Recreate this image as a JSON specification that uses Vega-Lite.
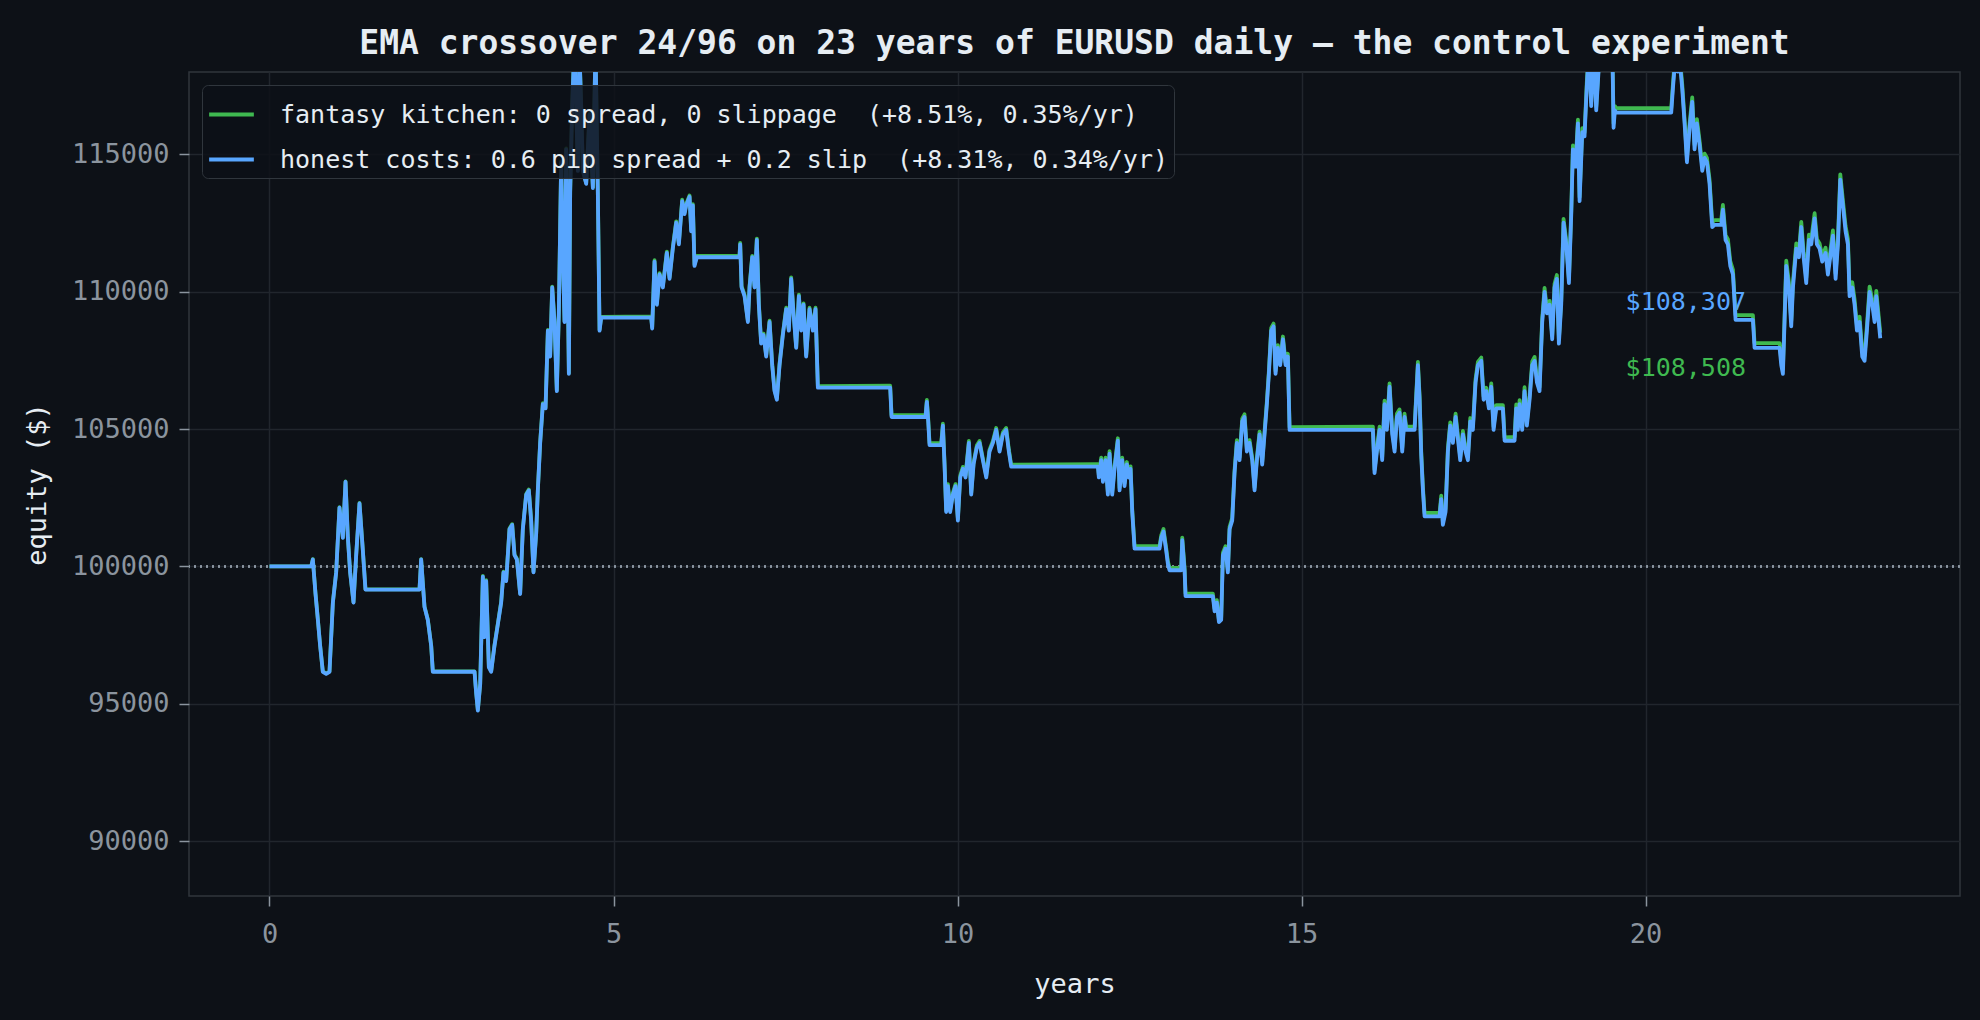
{
  "$schema": "https://vega.github.io/schema/vega-lite/v6.json",
  "width": 1771,
  "height": 824,
  "autosize": {"type": "none"},
  "padding": {"left": 189, "top": 72, "right": 20, "bottom": 124},
  "background": "#0d1117",
  "title": {
    "text": "EMA crossover 24/96 on 23 years of EURUSD daily — the control experiment",
    "fontSize": 33,
    "fontWeight": "bold",
    "color": "#e6edf3",
    "font": "'DejaVu Sans Mono', monospace",
    "anchor": "middle",
    "frame": "group",
    "offset": 11
  },
  "config": {
    "font": "'DejaVu Sans Mono', monospace",
    "view": {"stroke": "#30363d", "strokeWidth": 1.5},
    "axis": {
      "domain": false,
      "grid": true,
      "gridColor": "#21262d",
      "gridWidth": 1.5,
      "tickColor": "#8b949e",
      "tickSize": 10,
      "tickWidth": 1.5,
      "labelColor": "#8b949e",
      "labelFontSize": 27,
      "labelPadding": 10,
      "titleColor": "#e6edf3",
      "titleFontSize": 27,
      "titleFontWeight": "normal"
    },
    "legend": {
      "orient": "top-left",
      "offset": 13,
      "fillColor": "rgba(13,17,23,0.85)",
      "strokeColor": "#30363d",
      "cornerRadius": 6,
      "padding": 5,
      "labelFontSize": 25,
      "labelColor": "#e6edf3",
      "labelLimit": 0,
      "labelOffset": 24,
      "symbolType": "stroke",
      "symbolSize": 2000,
      "symbolStrokeWidth": 3.8,
      "rowPadding": 7
    }
  },
  "data": {
    "values": [
      {"t": 0, "h": 100000, "f": 100000},
      {"t": 0.606, "h": 100000, "f": 100000},
      {"t": 0.63, "h": 100252, "f": 100267},
      {"t": 0.669, "h": 98994, "f": 99009},
      {"t": 0.703, "h": 98051, "f": 98066},
      {"t": 0.736, "h": 97108, "f": 97123},
      {"t": 0.775, "h": 96164, "f": 96179},
      {"t": 0.824, "h": 96090, "f": 96105},
      {"t": 0.872, "h": 96164, "f": 96179},
      {"t": 0.921, "h": 98680, "f": 98695},
      {"t": 0.969, "h": 99780, "f": 99795},
      {"t": 1.017, "h": 102138, "f": 102153},
      {"t": 1.066, "h": 101038, "f": 101053},
      {"t": 1.105, "h": 103081, "f": 103096},
      {"t": 1.139, "h": 101038, "f": 101053},
      {"t": 1.172, "h": 99780, "f": 99795},
      {"t": 1.221, "h": 98680, "f": 98695},
      {"t": 1.26, "h": 100409, "f": 100424},
      {"t": 1.308, "h": 102295, "f": 102310},
      {"t": 1.357, "h": 100566, "f": 100581},
      {"t": 1.395, "h": 99151, "f": 99166},
      {"t": 2.18, "h": 99151, "f": 99166},
      {"t": 2.204, "h": 100252, "f": 100267},
      {"t": 2.253, "h": 98522, "f": 98537},
      {"t": 2.301, "h": 98051, "f": 98066},
      {"t": 2.35, "h": 97108, "f": 97123},
      {"t": 2.374, "h": 96164, "f": 96179},
      {"t": 2.98, "h": 96164, "f": 96179},
      {"t": 3.004, "h": 95378, "f": 95408},
      {"t": 3.028, "h": 94750, "f": 94780},
      {"t": 3.062, "h": 95693, "f": 95723},
      {"t": 3.101, "h": 99623, "f": 99653},
      {"t": 3.125, "h": 97422, "f": 97452},
      {"t": 3.149, "h": 99466, "f": 99496},
      {"t": 3.188, "h": 96322, "f": 96352},
      {"t": 3.222, "h": 96164, "f": 96194},
      {"t": 3.27, "h": 97108, "f": 97138},
      {"t": 3.319, "h": 97894, "f": 97924},
      {"t": 3.367, "h": 98680, "f": 98710},
      {"t": 3.401, "h": 99780, "f": 99810},
      {"t": 3.44, "h": 99466, "f": 99496},
      {"t": 3.488, "h": 101352, "f": 101382},
      {"t": 3.527, "h": 101509, "f": 101539},
      {"t": 3.561, "h": 100409, "f": 100439},
      {"t": 3.595, "h": 100252, "f": 100282},
      {"t": 3.643, "h": 98994, "f": 99024},
      {"t": 3.682, "h": 101352, "f": 101382},
      {"t": 3.731, "h": 102610, "f": 102640},
      {"t": 3.769, "h": 102767, "f": 102797},
      {"t": 3.803, "h": 101666, "f": 101696},
      {"t": 3.837, "h": 99780, "f": 99810},
      {"t": 3.876, "h": 101195, "f": 101225},
      {"t": 3.9, "h": 102767, "f": 102797},
      {"t": 3.934, "h": 104496, "f": 104526},
      {"t": 3.973, "h": 105911, "f": 105941},
      {"t": 4.012, "h": 105754, "f": 105784},
      {"t": 4.046, "h": 108583, "f": 108613},
      {"t": 4.079, "h": 107640, "f": 107670},
      {"t": 4.109, "h": 110155, "f": 110185},
      {"t": 4.142, "h": 108898, "f": 108928},
      {"t": 4.176, "h": 106382, "f": 106412},
      {"t": 4.205, "h": 109212, "f": 109242},
      {"t": 4.239, "h": 114714, "f": 114744},
      {"t": 4.264, "h": 111256, "f": 111286},
      {"t": 4.288, "h": 108898, "f": 108928},
      {"t": 4.312, "h": 115186, "f": 115216},
      {"t": 4.351, "h": 107011, "f": 107041},
      {"t": 4.37, "h": 113614, "f": 113644},
      {"t": 4.399, "h": 116758, "f": 116788},
      {"t": 4.433, "h": 119100, "f": 119130},
      {"t": 4.482, "h": 114400, "f": 114430},
      {"t": 4.506, "h": 118640, "f": 118670},
      {"t": 4.53, "h": 116758, "f": 116788},
      {"t": 4.554, "h": 114400, "f": 114430},
      {"t": 4.603, "h": 113928, "f": 113958},
      {"t": 4.651, "h": 116443, "f": 116473},
      {"t": 4.7, "h": 113771, "f": 113801},
      {"t": 4.738, "h": 118960, "f": 118990},
      {"t": 4.772, "h": 113614, "f": 113644},
      {"t": 4.797, "h": 108583, "f": 108613},
      {"t": 4.821, "h": 109055, "f": 109085},
      {"t": 5.547, "h": 109055, "f": 109105},
      {"t": 5.562, "h": 108662, "f": 108712},
      {"t": 5.596, "h": 111098, "f": 111148},
      {"t": 5.63, "h": 109526, "f": 109576},
      {"t": 5.669, "h": 110627, "f": 110677},
      {"t": 5.717, "h": 110155, "f": 110205},
      {"t": 5.775, "h": 111413, "f": 111463},
      {"t": 5.814, "h": 110470, "f": 110520},
      {"t": 5.862, "h": 111570, "f": 111620},
      {"t": 5.911, "h": 112513, "f": 112563},
      {"t": 5.95, "h": 111727, "f": 111777},
      {"t": 5.998, "h": 113299, "f": 113349},
      {"t": 6.032, "h": 112828, "f": 112878},
      {"t": 6.056, "h": 113142, "f": 113192},
      {"t": 6.105, "h": 113456, "f": 113506},
      {"t": 6.129, "h": 112199, "f": 112249},
      {"t": 6.153, "h": 113142, "f": 113192},
      {"t": 6.177, "h": 110941, "f": 110991},
      {"t": 6.211, "h": 111256, "f": 111306},
      {"t": 6.831, "h": 111256, "f": 111306},
      {"t": 6.841, "h": 111727, "f": 111777},
      {"t": 6.861, "h": 110155, "f": 110205},
      {"t": 6.904, "h": 109841, "f": 109891},
      {"t": 6.953, "h": 108898, "f": 108948},
      {"t": 6.977, "h": 110155, "f": 110205},
      {"t": 7.016, "h": 111256, "f": 111306},
      {"t": 7.05, "h": 110155, "f": 110205},
      {"t": 7.083, "h": 111884, "f": 111934},
      {"t": 7.112, "h": 109526, "f": 109576},
      {"t": 7.146, "h": 108112, "f": 108162},
      {"t": 7.18, "h": 108426, "f": 108476},
      {"t": 7.219, "h": 107640, "f": 107690},
      {"t": 7.268, "h": 108898, "f": 108948},
      {"t": 7.306, "h": 107326, "f": 107376},
      {"t": 7.34, "h": 106382, "f": 106432},
      {"t": 7.374, "h": 106068, "f": 106118},
      {"t": 7.413, "h": 107326, "f": 107376},
      {"t": 7.461, "h": 108426, "f": 108476},
      {"t": 7.51, "h": 109369, "f": 109419},
      {"t": 7.548, "h": 108583, "f": 108633},
      {"t": 7.582, "h": 110470, "f": 110520},
      {"t": 7.616, "h": 109212, "f": 109262},
      {"t": 7.655, "h": 107954, "f": 108004},
      {"t": 7.694, "h": 109841, "f": 109891},
      {"t": 7.728, "h": 108583, "f": 108633},
      {"t": 7.762, "h": 109526, "f": 109576},
      {"t": 7.8, "h": 107640, "f": 107690},
      {"t": 7.849, "h": 109369, "f": 109419},
      {"t": 7.897, "h": 108583, "f": 108633},
      {"t": 7.936, "h": 109369, "f": 109419},
      {"t": 7.97, "h": 106508, "f": 106558},
      {"t": 9.021, "h": 106508, "f": 106578},
      {"t": 9.041, "h": 105439, "f": 105509},
      {"t": 9.535, "h": 105439, "f": 105509},
      {"t": 9.554, "h": 105989, "f": 106059},
      {"t": 9.574, "h": 105282, "f": 105352},
      {"t": 9.593, "h": 104417, "f": 104487},
      {"t": 9.763, "h": 104417, "f": 104487},
      {"t": 9.787, "h": 105125, "f": 105195},
      {"t": 9.811, "h": 103710, "f": 103780},
      {"t": 9.835, "h": 101981, "f": 102051},
      {"t": 9.86, "h": 102924, "f": 102994},
      {"t": 9.893, "h": 101981, "f": 102051},
      {"t": 9.932, "h": 102610, "f": 102680},
      {"t": 9.971, "h": 102924, "f": 102994},
      {"t": 10.005, "h": 101666, "f": 101736},
      {"t": 10.039, "h": 103238, "f": 103308},
      {"t": 10.078, "h": 103553, "f": 103623},
      {"t": 10.116, "h": 103238, "f": 103308},
      {"t": 10.165, "h": 104496, "f": 104566},
      {"t": 10.199, "h": 102610, "f": 102680},
      {"t": 10.233, "h": 103710, "f": 103780},
      {"t": 10.281, "h": 104339, "f": 104409},
      {"t": 10.32, "h": 104496, "f": 104566},
      {"t": 10.368, "h": 103867, "f": 103937},
      {"t": 10.417, "h": 103238, "f": 103308},
      {"t": 10.465, "h": 104182, "f": 104252},
      {"t": 10.514, "h": 104496, "f": 104566},
      {"t": 10.562, "h": 104968, "f": 105038},
      {"t": 10.611, "h": 104182, "f": 104252},
      {"t": 10.659, "h": 104810, "f": 104880},
      {"t": 10.707, "h": 104968, "f": 105038},
      {"t": 10.746, "h": 104182, "f": 104252},
      {"t": 10.78, "h": 103631, "f": 103701},
      {"t": 12.04, "h": 103631, "f": 103721},
      {"t": 12.054, "h": 103238, "f": 103328},
      {"t": 12.088, "h": 103867, "f": 103957},
      {"t": 12.113, "h": 103081, "f": 103171},
      {"t": 12.151, "h": 103867, "f": 103957},
      {"t": 12.185, "h": 102610, "f": 102700},
      {"t": 12.209, "h": 104103, "f": 104193},
      {"t": 12.248, "h": 102610, "f": 102700},
      {"t": 12.282, "h": 103553, "f": 103643},
      {"t": 12.33, "h": 104575, "f": 104665},
      {"t": 12.355, "h": 102767, "f": 102857},
      {"t": 12.393, "h": 103867, "f": 103957},
      {"t": 12.427, "h": 102924, "f": 103014},
      {"t": 12.461, "h": 103710, "f": 103800},
      {"t": 12.49, "h": 103238, "f": 103328},
      {"t": 12.515, "h": 103553, "f": 103643},
      {"t": 12.539, "h": 101981, "f": 102071},
      {"t": 12.573, "h": 100645, "f": 100735},
      {"t": 12.936, "h": 100645, "f": 100735},
      {"t": 12.96, "h": 101038, "f": 101128},
      {"t": 12.994, "h": 101273, "f": 101363},
      {"t": 13.033, "h": 100566, "f": 100656},
      {"t": 13.057, "h": 100094, "f": 100184},
      {"t": 13.081, "h": 99859, "f": 99949},
      {"t": 13.251, "h": 99859, "f": 99949},
      {"t": 13.266, "h": 100959, "f": 101049},
      {"t": 13.3, "h": 99859, "f": 99949},
      {"t": 13.314, "h": 98915, "f": 99005},
      {"t": 13.711, "h": 98915, "f": 99005},
      {"t": 13.736, "h": 98365, "f": 98455},
      {"t": 13.769, "h": 98680, "f": 98770},
      {"t": 13.799, "h": 97972, "f": 98062},
      {"t": 13.832, "h": 98051, "f": 98141},
      {"t": 13.857, "h": 100409, "f": 100499},
      {"t": 13.895, "h": 100645, "f": 100735},
      {"t": 13.929, "h": 99780, "f": 99870},
      {"t": 13.954, "h": 101352, "f": 101442},
      {"t": 13.992, "h": 101666, "f": 101756},
      {"t": 14.026, "h": 103396, "f": 103496},
      {"t": 14.06, "h": 104496, "f": 104596},
      {"t": 14.099, "h": 103867, "f": 103967},
      {"t": 14.138, "h": 105282, "f": 105382},
      {"t": 14.171, "h": 105439, "f": 105539},
      {"t": 14.205, "h": 104182, "f": 104282},
      {"t": 14.244, "h": 104496, "f": 104596},
      {"t": 14.283, "h": 103867, "f": 103967},
      {"t": 14.317, "h": 102767, "f": 102867},
      {"t": 14.351, "h": 103867, "f": 103967},
      {"t": 14.39, "h": 104810, "f": 104910},
      {"t": 14.428, "h": 103710, "f": 103810},
      {"t": 14.462, "h": 104810, "f": 104910},
      {"t": 14.496, "h": 105911, "f": 106011},
      {"t": 14.525, "h": 107011, "f": 107111},
      {"t": 14.559, "h": 108583, "f": 108683},
      {"t": 14.593, "h": 108740, "f": 108840},
      {"t": 14.622, "h": 107011, "f": 107111},
      {"t": 14.656, "h": 107954, "f": 108054},
      {"t": 14.69, "h": 107326, "f": 107426},
      {"t": 14.729, "h": 108269, "f": 108369},
      {"t": 14.768, "h": 107326, "f": 107426},
      {"t": 14.801, "h": 107640, "f": 107740},
      {"t": 14.826, "h": 104968, "f": 105068},
      {"t": 16.037, "h": 104968, "f": 105088},
      {"t": 16.061, "h": 103396, "f": 103516},
      {"t": 16.095, "h": 104182, "f": 104302},
      {"t": 16.134, "h": 104968, "f": 105088},
      {"t": 16.172, "h": 103867, "f": 103987},
      {"t": 16.206, "h": 105911, "f": 106031},
      {"t": 16.24, "h": 104968, "f": 105088},
      {"t": 16.279, "h": 106540, "f": 106660},
      {"t": 16.318, "h": 104810, "f": 104930},
      {"t": 16.352, "h": 104182, "f": 104302},
      {"t": 16.386, "h": 105439, "f": 105559},
      {"t": 16.424, "h": 105596, "f": 105716},
      {"t": 16.463, "h": 104182, "f": 104302},
      {"t": 16.497, "h": 105439, "f": 105559},
      {"t": 16.521, "h": 104968, "f": 105088},
      {"t": 16.643, "h": 104968, "f": 105088},
      {"t": 16.691, "h": 107326, "f": 107446},
      {"t": 16.716, "h": 106068, "f": 106188},
      {"t": 16.74, "h": 104024, "f": 104144},
      {"t": 16.764, "h": 102767, "f": 102887},
      {"t": 16.788, "h": 101824, "f": 101944},
      {"t": 17.006, "h": 101824, "f": 101944},
      {"t": 17.03, "h": 102452, "f": 102572},
      {"t": 17.054, "h": 101509, "f": 101629},
      {"t": 17.093, "h": 101981, "f": 102101},
      {"t": 17.127, "h": 104182, "f": 104302},
      {"t": 17.161, "h": 105125, "f": 105245},
      {"t": 17.2, "h": 104496, "f": 104616},
      {"t": 17.239, "h": 105439, "f": 105559},
      {"t": 17.272, "h": 104653, "f": 104773},
      {"t": 17.306, "h": 103867, "f": 103987},
      {"t": 17.345, "h": 104810, "f": 104930},
      {"t": 17.384, "h": 104182, "f": 104302},
      {"t": 17.418, "h": 103867, "f": 103987},
      {"t": 17.452, "h": 105282, "f": 105402},
      {"t": 17.49, "h": 104968, "f": 105088},
      {"t": 17.529, "h": 106697, "f": 106817},
      {"t": 17.563, "h": 107326, "f": 107446},
      {"t": 17.612, "h": 107483, "f": 107603},
      {"t": 17.646, "h": 106068, "f": 106188},
      {"t": 17.684, "h": 106382, "f": 106502},
      {"t": 17.723, "h": 105754, "f": 105874},
      {"t": 17.757, "h": 106540, "f": 106660},
      {"t": 17.791, "h": 104968, "f": 105088},
      {"t": 17.83, "h": 105754, "f": 105874},
      {"t": 17.926, "h": 105754, "f": 105874},
      {"t": 17.951, "h": 104575, "f": 104695},
      {"t": 18.096, "h": 104575, "f": 104715},
      {"t": 18.12, "h": 105754, "f": 105894},
      {"t": 18.144, "h": 104968, "f": 105108},
      {"t": 18.169, "h": 105911, "f": 106051},
      {"t": 18.207, "h": 104968, "f": 105108},
      {"t": 18.241, "h": 106382, "f": 106522},
      {"t": 18.275, "h": 105125, "f": 105265},
      {"t": 18.314, "h": 106068, "f": 106208},
      {"t": 18.353, "h": 107326, "f": 107466},
      {"t": 18.387, "h": 107483, "f": 107623},
      {"t": 18.421, "h": 106697, "f": 106837},
      {"t": 18.459, "h": 106382, "f": 106522},
      {"t": 18.498, "h": 108898, "f": 109038},
      {"t": 18.532, "h": 109998, "f": 110138},
      {"t": 18.566, "h": 109212, "f": 109352},
      {"t": 18.605, "h": 109526, "f": 109666},
      {"t": 18.643, "h": 108269, "f": 108409},
      {"t": 18.677, "h": 110155, "f": 110295},
      {"t": 18.711, "h": 110470, "f": 110610},
      {"t": 18.74, "h": 108112, "f": 108252},
      {"t": 18.774, "h": 109526, "f": 109666},
      {"t": 18.808, "h": 112513, "f": 112653},
      {"t": 18.847, "h": 111727, "f": 111867},
      {"t": 18.886, "h": 110312, "f": 110452},
      {"t": 18.92, "h": 112828, "f": 112968},
      {"t": 18.944, "h": 115186, "f": 115326},
      {"t": 18.983, "h": 114557, "f": 114697},
      {"t": 19.017, "h": 116129, "f": 116269},
      {"t": 19.041, "h": 113299, "f": 113439},
      {"t": 19.08, "h": 115814, "f": 115954},
      {"t": 19.113, "h": 115657, "f": 115797},
      {"t": 19.147, "h": 117544, "f": 117684},
      {"t": 19.176, "h": 118800, "f": 118940},
      {"t": 19.21, "h": 116758, "f": 116898},
      {"t": 19.244, "h": 118960, "f": 119100},
      {"t": 19.283, "h": 116600, "f": 116740},
      {"t": 19.331, "h": 118640, "f": 118780},
      {"t": 19.38, "h": 119270, "f": 119410},
      {"t": 19.477, "h": 118330, "f": 118470},
      {"t": 19.516, "h": 118960, "f": 119118},
      {"t": 19.535, "h": 115971, "f": 116129},
      {"t": 19.554, "h": 116600, "f": 116758},
      {"t": 19.574, "h": 116522, "f": 116680},
      {"t": 20.373, "h": 116522, "f": 116680},
      {"t": 20.397, "h": 117386, "f": 117544},
      {"t": 20.436, "h": 118640, "f": 118798},
      {"t": 20.47, "h": 118015, "f": 118173},
      {"t": 20.494, "h": 118487, "f": 118645},
      {"t": 20.533, "h": 117386, "f": 117544},
      {"t": 20.567, "h": 116129, "f": 116287},
      {"t": 20.601, "h": 114714, "f": 114872},
      {"t": 20.64, "h": 115971, "f": 116129},
      {"t": 20.678, "h": 116915, "f": 117073},
      {"t": 20.712, "h": 115186, "f": 115344},
      {"t": 20.746, "h": 116129, "f": 116287},
      {"t": 20.785, "h": 115343, "f": 115501},
      {"t": 20.824, "h": 114400, "f": 114558},
      {"t": 20.858, "h": 114871, "f": 115029},
      {"t": 20.892, "h": 114714, "f": 114872},
      {"t": 20.93, "h": 113928, "f": 114086},
      {"t": 20.969, "h": 112356, "f": 112514},
      {"t": 21.003, "h": 112435, "f": 112610},
      {"t": 21.1, "h": 112435, "f": 112610},
      {"t": 21.124, "h": 112985, "f": 113160},
      {"t": 21.163, "h": 111884, "f": 112059},
      {"t": 21.197, "h": 111727, "f": 111902},
      {"t": 21.231, "h": 110941, "f": 111116},
      {"t": 21.27, "h": 110627, "f": 110802},
      {"t": 21.308, "h": 108976, "f": 109151},
      {"t": 21.56, "h": 108976, "f": 109151},
      {"t": 21.584, "h": 107954, "f": 108129},
      {"t": 21.948, "h": 107954, "f": 108129},
      {"t": 21.972, "h": 107326, "f": 107501},
      {"t": 21.996, "h": 107011, "f": 107186},
      {"t": 22.02, "h": 108898, "f": 109088},
      {"t": 22.045, "h": 110941, "f": 111131},
      {"t": 22.083, "h": 110155, "f": 110345},
      {"t": 22.117, "h": 108740, "f": 108930},
      {"t": 22.142, "h": 110155, "f": 110345},
      {"t": 22.19, "h": 111570, "f": 111760},
      {"t": 22.229, "h": 111256, "f": 111446},
      {"t": 22.263, "h": 112356, "f": 112546},
      {"t": 22.297, "h": 111256, "f": 111446},
      {"t": 22.335, "h": 110312, "f": 110502},
      {"t": 22.374, "h": 111884, "f": 112074},
      {"t": 22.408, "h": 111727, "f": 111917},
      {"t": 22.457, "h": 112670, "f": 112860},
      {"t": 22.49, "h": 111727, "f": 111917},
      {"t": 22.529, "h": 111570, "f": 111760},
      {"t": 22.568, "h": 111098, "f": 111288},
      {"t": 22.616, "h": 111413, "f": 111603},
      {"t": 22.65, "h": 110627, "f": 110817},
      {"t": 22.684, "h": 111256, "f": 111446},
      {"t": 22.723, "h": 112042, "f": 112232},
      {"t": 22.762, "h": 110470, "f": 110660},
      {"t": 22.796, "h": 111727, "f": 111917},
      {"t": 22.83, "h": 114085, "f": 114275},
      {"t": 22.868, "h": 113142, "f": 113332},
      {"t": 22.907, "h": 112199, "f": 112389},
      {"t": 22.941, "h": 111727, "f": 111917},
      {"t": 22.965, "h": 109841, "f": 110031},
      {"t": 23.004, "h": 110155, "f": 110345},
      {"t": 23.038, "h": 109526, "f": 109716},
      {"t": 23.072, "h": 108583, "f": 108773},
      {"t": 23.111, "h": 108898, "f": 109088},
      {"t": 23.149, "h": 107640, "f": 107830},
      {"t": 23.183, "h": 107483, "f": 107673},
      {"t": 23.217, "h": 108583, "f": 108773},
      {"t": 23.256, "h": 109998, "f": 110188},
      {"t": 23.295, "h": 109526, "f": 109716},
      {"t": 23.329, "h": 108898, "f": 109088},
      {"t": 23.353, "h": 109841, "f": 110031},
      {"t": 23.377, "h": 109212, "f": 109402},
      {"t": 23.411, "h": 108307, "f": 108508}
    ]
  },
  "layer": [
    {
      "mark": {"type": "rule", "color": "#8b949e", "strokeDash": [2, 4], "strokeWidth": 1.5, "opacity": 0.65},
      "encoding": {
        "y": {"datum": 100000, "type": "quantitative", "title": "equity ($)", "scale": {"domain": [88000, 118000], "nice": false, "zero": false}}
      }
    },
    {
      "data": {
        "values": [
          {"t": 19.71, "v": 109618, "txt": "$108,307", "s": "h"},
          {"t": 19.71, "v": 107216, "txt": "$108,508", "s": "f"}
        ]
      },
      "mark": {"type": "text", "align": "left", "baseline": "middle", "fontSize": 25},
      "encoding": {
        "x": {"field": "t", "type": "quantitative", "title": "years"},
        "y": {"field": "v", "type": "quantitative", "title": "equity ($)"},
        "text": {"field": "txt"},
        "color": {"condition": {"test": "datum.s == 'h'", "value": "#58a6ff"}, "value": "#3fb950"}
      }
    },
    {
      "mark": {"type": "line", "clip": true, "strokeWidth": 3.8, "strokeJoin": "round"},
      "encoding": {
        "x": {
          "field": "t",
          "type": "quantitative",
          "title": "years",
          "scale": {"domain": [-1.17, 24.57], "nice": false, "zero": false},
          "axis": {"values": [0, 5, 10, 15, 20], "format": "d", "labelPadding": 15, "titlePadding": 24}
        },
        "y": {
          "field": "f",
          "type": "quantitative",
          "title": "equity ($)",
          "scale": {"domain": [88000, 118000], "nice": false, "zero": false},
          "axis": {"values": [90000, 95000, 100000, 105000, 110000, 115000], "format": "d", "titlePadding": 20}
        },
        "color": {
          "datum": "fantasy kitchen: 0 spread, 0 slippage \u00a0(+8.51%, 0.35%/yr)",
          "type": "nominal",
          "scale": {
            "domain": [
              "fantasy kitchen: 0 spread, 0 slippage \u00a0(+8.51%, 0.35%/yr)",
              "honest costs: 0.6 pip spread + 0.2 slip \u00a0(+8.31%, 0.34%/yr)"
            ],
            "range": ["#3fb950", "#58a6ff"]
          },
          "legend": {"title": null}
        }
      }
    },
    {
      "mark": {"type": "line", "clip": true, "strokeWidth": 3.8, "strokeJoin": "round"},
      "encoding": {
        "x": {"field": "t", "type": "quantitative", "title": "years"},
        "y": {"field": "h", "type": "quantitative", "title": "equity ($)"},
        "color": {"datum": "honest costs: 0.6 pip spread + 0.2 slip \u00a0(+8.31%, 0.34%/yr)", "type": "nominal"}
      }
    }
  ]
}
